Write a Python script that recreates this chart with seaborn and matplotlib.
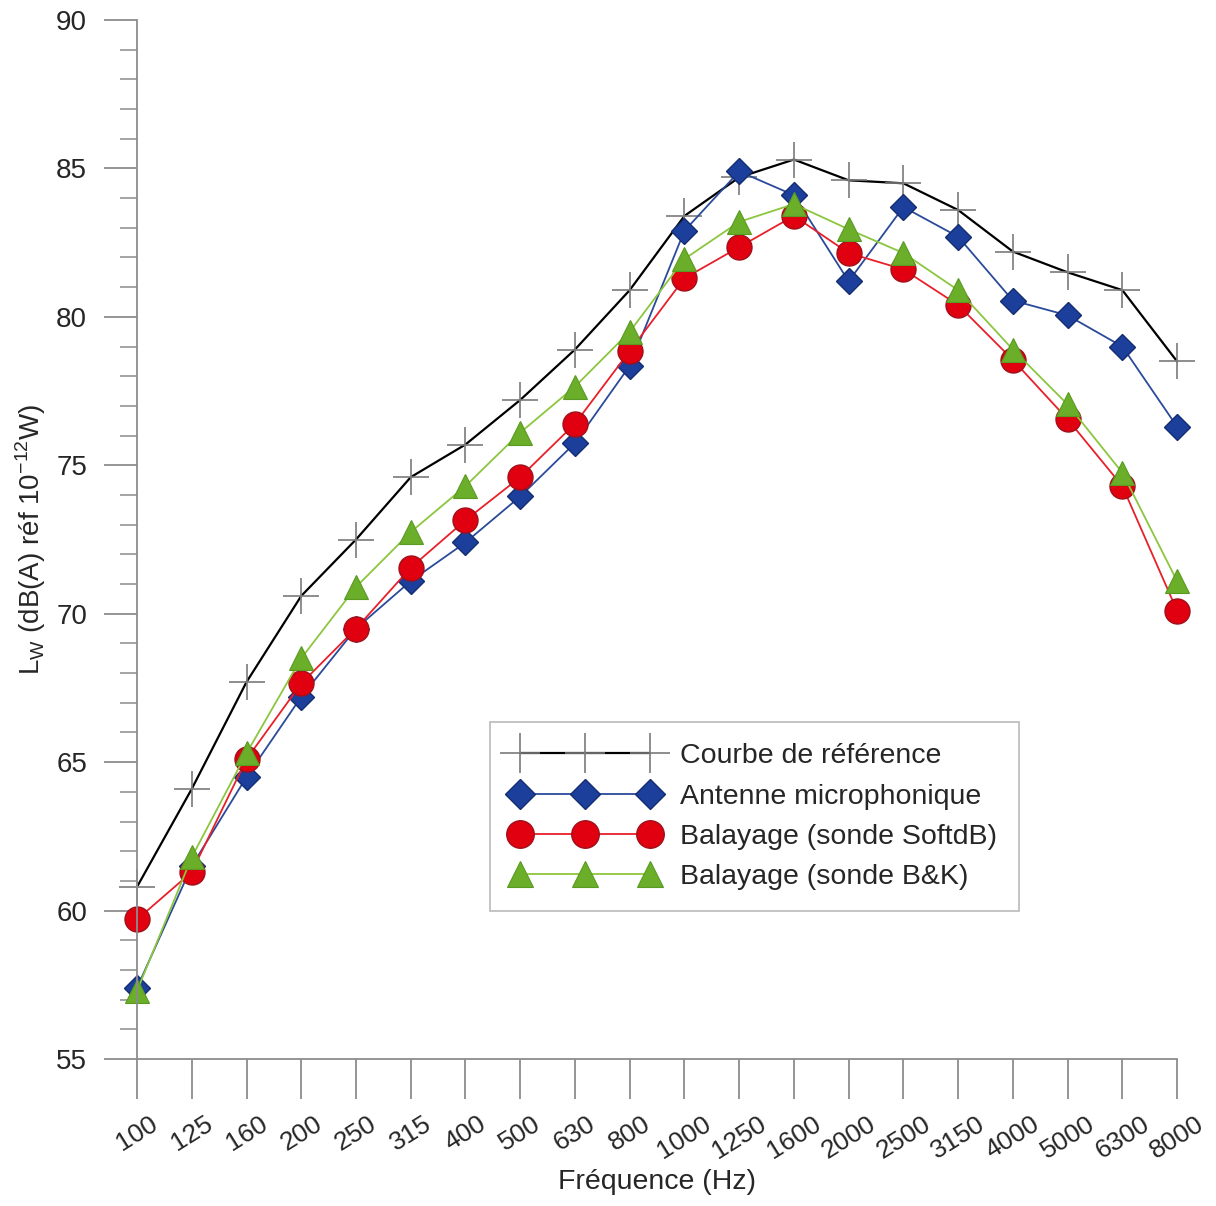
import numpy as np
import pandas as pd
import matplotlib
matplotlib.use('Agg')
import matplotlib.pyplot as plt
import seaborn as sns
from matplotlib.ticker import MultipleLocator

freqs = ['100', '125', '160', '200', '250', '315', '400', '500', '630', '800',
         '1000', '1250', '1600', '2000', '2500', '3150', '4000', '5000', '6300', '8000']
ref = [60.8, 64.1, 67.7, 70.6, 72.5, 74.6, 75.7, 77.2, 78.9, 80.9,
       83.4, 84.7, 85.3, 84.6, 84.5, 83.6, 82.2, 81.5, 80.9, 78.5]
antenne = [57.4, 61.5, 64.5, 67.2, 69.5, 71.1, 72.4, 73.95, 75.75, 78.35,
           82.9, 84.9, 84.1, 81.2, 83.7, 82.7, 80.55, 80.05, 79.0, 76.3]
softdb = [59.7, 61.3, 65.1, 67.65, 69.5, 71.55, 73.15, 74.6, 76.4, 78.85,
          81.3, 82.35, 83.4, 82.15, 81.6, 80.4, 78.55, 76.55, 74.3, 70.1]
bk = [57.3, 61.8, 65.3, 68.5, 70.9, 72.75, 74.3, 76.1, 77.65, 79.5,
      81.95, 83.2, 83.8, 82.95, 82.15, 80.9, 78.9, 77.05, 74.75, 71.1]

df = pd.DataFrame({'freq': freqs, 'ref': ref, 'antenne': antenne,
                   'softdb': softdb, 'bk': bk})

sns.set_theme(style='white')
plt.rcParams['font.family'] = ['Liberation Sans', 'DejaVu Sans']

fig = plt.figure(figsize=(12.16, 12.06), dpi=100)
ax = fig.add_axes([0.1127, 0.1219, 0.8553, 0.8615])

sns.lineplot(data=df, x='freq', y='ref', sort=False, ax=ax, color='black', linewidth=1.6,
             marker='+', markersize=26, markeredgecolor='#7a7a7a', markeredgewidth=1.2,
             label='Courbe de référence', clip_on=False)
sns.lineplot(data=df, x='freq', y='antenne', sort=False, ax=ax, color='#2a4a9a', linewidth=1.3,
             marker='D', markersize=13.5, markerfacecolor='#1c3f9c', markeredgecolor='#152d70',
             markeredgewidth=1.0, label='Antenne microphonique', clip_on=False)
sns.lineplot(data=df, x='freq', y='softdb', sort=False, ax=ax, color='#e8202a', linewidth=1.3,
             marker='o', markersize=18, markerfacecolor='#e00010', markeredgecolor='#a0101a',
             markeredgewidth=1.0, label='Balayage (sonde SoftdB)', clip_on=False)
sns.lineplot(data=df, x='freq', y='bk', sort=False, ax=ax, color='#8cc63f', linewidth=1.3,
             marker='^', markersize=17, markerfacecolor='#6aae2a', markeredgecolor='#5a9a20',
             markeredgewidth=0.8, label='Balayage (sonde B&K)', clip_on=False)

ax.set_xlim(0, len(freqs) - 1)
ax.set_ylim(55, 90)
ax.yaxis.set_major_locator(MultipleLocator(5))
ax.yaxis.set_minor_locator(MultipleLocator(1))

for s in ['top', 'right']:
    ax.spines[s].set_visible(False)
for s in ['left', 'bottom']:
    ax.spines[s].set_color('#8c8c8c')
    ax.spines[s].set_linewidth(1.3)

ax.tick_params(axis='y', which='major', direction='out', length=24, width=1.3,
               color='#8c8c8c', labelsize=20, pad=12, left=True)
ax.tick_params(axis='y', which='minor', direction='out', length=12, width=1.1,
               color='#8c8c8c', left=True)
ax.tick_params(axis='x', which='major', direction='out', length=29, width=1.3,
               color='#8c8c8c', labelsize=19, pad=9, bottom=True)
plt.setp(ax.get_xticklabels(), rotation=32, ha='center')

ax.set_xlabel('Fréquence (Hz)', fontsize=20.5, labelpad=4)
ax.set_ylabel(r'L$_\mathregular{W}$ (dB(A) réf 10$^\mathregular{-12}$W)', fontsize=20, labelpad=6)

leg = ax.legend(loc='upper left', bbox_to_anchor=(0.339, 0.3244), numpoints=3,
                handlelength=5.2, fontsize=20.5, frameon=True, fancybox=False,
                edgecolor='#a8a8a8', borderpad=0.75, labelspacing=0.5, handletextpad=0.75,
                borderaxespad=0, markerscale=1.1)
leg.get_frame().set_linewidth(1.2)

fig.savefig('out.png', dpi=100)
